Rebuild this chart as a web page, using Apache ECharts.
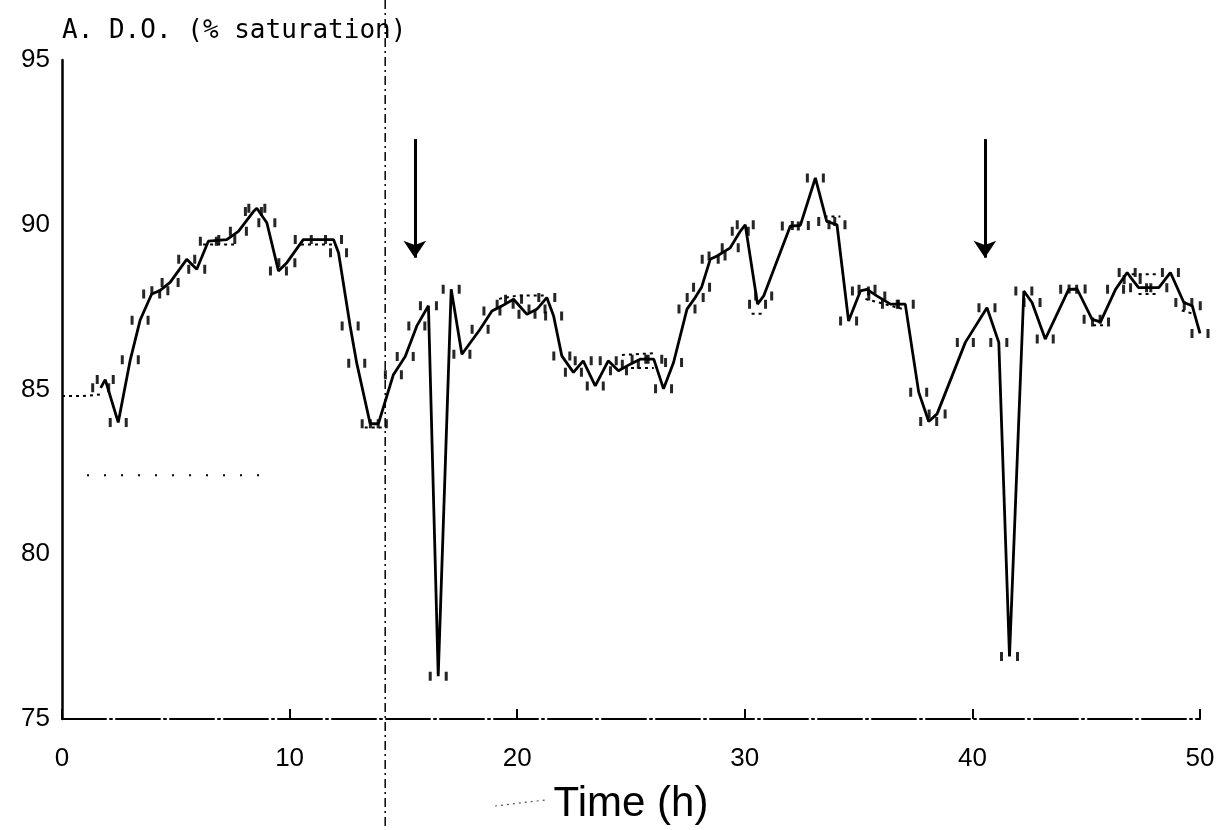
<!DOCTYPE html>
<html>
<head>
<meta charset="utf-8">
<title>D.O. (% saturation)</title>
<script src="https://cdn.jsdelivr.net/npm/echarts@6/dist/echarts.min.js"></script>
<style>
  html, body { margin: 0; padding: 0; background: #fff; }
  #chart { width: 1229px; height: 830px; }
</style>
</head>
<body>
<div id="chart"></div>
<script>
// Dissolved oxygen trace (% saturation) over 50 hours
const hours = [1.7, 1.9, 2.47, 3.0, 3.43, 3.94, 4.3, 4.75, 5.48, 5.92, 6.43, 7.24, 7.75, 8.41, 8.56, 9.0, 9.51, 9.88,
  10.6, 11.93, 12.15, 12.66, 12.95, 13.54, 13.9, 14.56, 15.08, 15.59, 16.1, 16.53, 17.1, 17.57, 18.37, 18.89, 19.47,
  19.84, 20.43, 20.87, 21.3, 21.6, 21.96, 22.47, 22.9, 23.43, 24.0, 24.45, 24.97, 25.4, 26.0, 26.43, 26.87, 27.46,
  27.82, 28.1, 28.48, 28.78, 29.36, 29.8, 30.02, 30.56, 30.83, 32.0, 32.44, 33.1, 33.6, 34.05, 34.56, 35.08, 35.37,
  35.8, 36.4, 37.05, 37.64, 38.08, 38.45, 39.69, 40.64, 41.16, 41.63, 42.26, 42.62, 43.2, 44.23, 44.6, 45.26, 45.63,
  46.29, 46.8, 47.02, 47.3, 48.19, 48.7, 49.29, 49.66, 50.0];
const doSaturation = [85.05, 85.3, 84.0, 85.9, 87.1, 87.9, 88.0, 88.25, 88.95, 88.65, 89.5, 89.55, 89.8, 90.4, 90.5, 90.06, 88.6, 88.85,
  89.55, 89.55, 89.15, 86.93, 85.8, 83.96, 83.96, 85.45, 86.0, 86.93, 87.54, 76.3, 88.04, 86.07, 86.83, 87.38, 87.59,
  87.74, 87.28, 87.44, 87.79, 87.23, 86.02, 85.52, 85.87, 85.11, 85.87, 85.57, 85.77, 85.92, 85.92, 85.02, 85.82, 87.44,
  87.79, 88.1, 88.95, 89.05, 89.3, 89.8, 90.0, 87.59, 87.84, 89.96, 89.98, 91.42, 90.1, 90.0, 87.08, 87.99, 88.04,
  87.84, 87.59, 87.59, 84.92, 84.03, 84.26, 86.43, 87.48, 86.43, 76.9, 87.99, 87.64, 86.53, 88.04, 88.05, 87.13, 87.05,
  88.04, 88.55, 88.34, 88.09, 88.09, 88.55, 87.64, 87.54, 86.7];

// Raw recorder runs drawn as dotted traces
const dottedRuns = [
  [[0, 84.8], [0.9, 84.8], [1.7, 84.85]],
  [[6.2, 89.4], [7.6, 89.4]],
  [[10.5, 89.4], [11.9, 89.4]],
  [[13.3, 83.85], [14.2, 83.85]],
  [[19.2, 87.75], [20.0, 87.85], [21.3, 87.85]],
  [[24.6, 86.05], [26.0, 86.1]],
  [[25.0, 85.65], [26.0, 85.65]],
  [[30.3, 87.3], [30.9, 87.3]],
  [[33.5, 90.25], [34.2, 90.25]],
  [[35.3, 87.75], [36.9, 87.45]],
  [[45.3, 86.95], [45.8, 86.95]],
  [[47.0, 88.5], [48.2, 88.5]],
  [[47.3, 87.9], [48.2, 87.9]],
  [[49.2, 87.4], [49.7, 87.3]]
];

// Baseline reading and its time span
const baselineHours = [1.1, 8.8];
const baselineValue = 82.4;

// Additions (arrows) and the reference time line
const arrowHours = [15.5, 40.55];
const arrowFrom = 92.6;
const arrowTo = 89.0;
const markerHour = 14.2;

const xTicks = [0, 10, 20, 30, 40, 50];
const yTicks = [75, 80, 85, 90, 95];

const FONT = 'Liberation Sans';
const solidData = hours.map((h, i) => [h, doSaturation[i]]);

// Small paired bracket marks around each reading
const bracketPath = 'path://M0,0h3v9h-3zM16,0h3v9h-3z';

const series = [
  {
    type: 'line',
    data: solidData,
    symbol: 'none',
    lineStyle: { color: '#000', width: 2.8 },
    z: 5,
    markLine: {
      silent: true,
      symbol: ['none', 'arrow'],
      symbolSize: 17,
      label: { show: false },
      lineStyle: { color: '#000', width: 3, type: 'solid' },
      data: arrowHours.map(h => [{ coord: [h, arrowFrom] }, { coord: [h, arrowTo] }])
    }
  },
  {
    type: 'scatter',
    data: solidData,
    symbol: bracketPath,
    symbolSize: [19, 9],
    itemStyle: { color: '#000', opacity: 0.85 },
    silent: true,
    z: 4
  },
  {
    type: 'line',
    data: baselineHours.map(h => [h, baselineValue]),
    symbol: 'none',
    lineStyle: { color: '#000', width: 2, type: [2, 15] },
    z: 3
  }
];
dottedRuns.forEach(run => {
  series.push({
    type: 'line',
    data: run,
    symbol: 'none',
    lineStyle: { color: '#000', width: 2, type: [3, 4] },
    z: 3
  });
});

const chart = echarts.init(document.getElementById('chart'), null, { renderer: 'canvas' });
chart.setOption({
  animation: false,
  backgroundColor: '#fff',
  grid: { left: 62, right: 29, top: 60, bottom: 109, containLabel: false },
  xAxis: {
    type: 'value',
    min: xTicks[0],
    max: xTicks[xTicks.length - 1],
    interval: 10,
    name: 'Time (h)',
    nameLocation: 'middle',
    nameGap: 64,
    nameTextStyle: { fontFamily: FONT, fontSize: 42, color: '#000' },
    axisLine: { onZero: false, lineStyle: { color: '#000', width: 2, type: [44, 4, 2, 4] } },
    axisTick: { show: true, inside: true, length: 10, lineStyle: { color: '#000', width: 2 } },
    axisLabel: { fontFamily: FONT, fontSize: 26, color: '#000', margin: 27,
      formatter: v => (xTicks.includes(v) ? String(v) : '') },
    splitLine: { show: false }
  },
  yAxis: {
    type: 'value',
    min: yTicks[0],
    max: yTicks[yTicks.length - 1],
    interval: 5,
    name: 'A. D.O. (% saturation)',
    nameLocation: 'end',
    nameGap: 16,
    nameTextStyle: { fontFamily: 'DejaVu Sans Mono', fontSize: 26, color: '#000', align: 'left' },
    axisLine: { show: true, lineStyle: { color: '#000', width: 2.5 } },
    axisTick: { show: false },
    axisLabel: { fontFamily: FONT, fontSize: 26, color: '#000', margin: 12,
      formatter: v => (yTicks.includes(v) ? String(v) : '') },
    splitLine: { show: false }
  },
  series: series
});

// Dash-dot time marker running the full page height, and the dotted leader before the axis title
const mx = chart.convertToPixel({ xAxisIndex: 0 }, markerHour);
chart.setOption({
  graphic: [
    {
      type: 'line',
      silent: true,
      shape: { x1: mx, y1: 0, x2: mx, y2: 830 },
      style: { stroke: '#000', lineWidth: 1.5, lineDash: [9, 4, 2, 4] }
    },
    {
      type: 'line',
      silent: true,
      shape: { x1: 495, y1: 806, x2: 545, y2: 800 },
      style: { stroke: '#555', lineWidth: 1.2, lineDash: [2, 4] }
    }
  ]
});
</script>
</body>
</html>
